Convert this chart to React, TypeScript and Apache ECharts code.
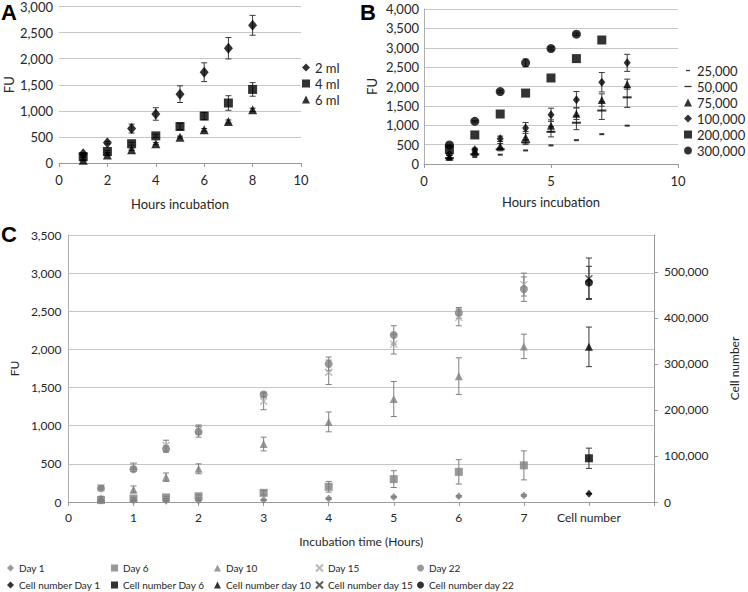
import React, { useEffect, useRef } from 'react';
import * as echarts from 'echarts';

// ---------- Panel A ----------
const aHours = [1, 2, 3, 4, 5, 6, 7, 8];
const a2ml = [175, 390, 660, 940, 1320, 1740, 2200, 2640];
const a2mlErr = [20, 25, 85, 120, 160, 180, 205, 190];
const a4ml = [120, 220, 370, 520, 700, 900, 1150, 1410];
const a4mlErr = [15, 20, 30, 30, 60, 70, 140, 130];
const a6ml = [55, 155, 255, 370, 495, 635, 795, 1020];
const a6mlErr = [10, 15, 15, 20, 20, 25, 30, 30];

// ---------- Panel B ----------
const bHours = [1, 2, 3, 4, 5, 6, 7, 8];
const b25k = [110, 180, 240, 350, 480, 615, 770, 990];
const b50k = [150, 250, 380, 560, 830, 1065, 1380, 1720];
const b50kErr = [20, 30, 40, 60, 130, 180, 230, 260];
const b75k = [190, 330, 460, 690, 990, 1300, 1650, 2060];
const b75kErr = [30, 50, 70, 150, 150, 150, 160, 130];
const b100k = [250, 370, 650, 930, 1270, 1660, 2110, 2610];
const b100kErr = [30, 40, 70, 140, 170, 210, 250, 220];
const b200kHours = [1, 2, 3, 4, 5, 6, 7];
const b200k = [370, 750, 1290, 1830, 2220, 2720, 3200];
const b300kHours = [1, 2, 3, 4, 5, 6];
const b300k = [490, 1100, 1870, 2610, 2980, 3350];
const b300kErr = [20, 20, 30, 100, 40, 30];

// ---------- Panel C ----------
const cHours = [0.5, 1, 1.5, 2, 3, 4, 5, 6, 7];
const cTickLabels = ['0', '1', '2', '3', '4', '5', '6', '7', 'Cell number', ''];
const cDay1 = [20, 20, 15, 20, 25, 45, 65, 75, 85];
const cDay1Err = [5, 5, 5, 5, 5, 10, 10, 10, 10];
const cDay6 = [25, 45, 60, 75, 120, 200, 300, 395, 480];
const cDay6Err = [10, 15, 15, 20, 30, 70, 110, 160, 190];
const cDay10 = [50, 165, 325, 435, 760, 1050, 1350, 1650, 2040];
const cDay10Err = [25, 45, 55, 65, 90, 130, 230, 240, 160];
const cDay15 = [190, 470, 740, 950, 1320, 1700, 2070, 2420, 2850];
const cDay15Err = [20, 40, 70, 60, 110, 160, 130, 110, 150];
const cDay22 = [180, 430, 695, 920, 1410, 1810, 2190, 2480, 2790];
const cDay22Err = [15, 30, 40, 70, 30, 90, 120, 70, 160];
const cCellX = 8;
const cCellNumbers = [18000, 95000, 337000, 485000, 477000];
const cCellErr = [0, 22000, 43000, 45000, 35000];
const cLegendCols = [
  ['Day 1', 'Cell number Day 1'],
  ['Day 6', 'Cell number Day 6'],
  ['Day 10', 'Cell number day 10'],
  ['Day 15', 'Cell number day 15'],
  ['Day 22', 'Cell number day 22'],
];

const FONT = 'Lato, "Open Sans", sans-serif';
const TXT = '#262626';
const GRAY = '#7f7f7f';
const LGRAY = '#a6a6a6';
const GRID = '#c6c6c6';
const XPATH = 'path://M0,0L10,10M10,0L0,10';
const DASH_S = 'path://M0,0M10,10M2.5,4.2h5v1.6h-5z';
const DASH_L = 'path://M0,0M10,10M0.5,4.2h9v1.6h-9z';

const fmt = (v: number) => v.toLocaleString('en-US');
const pts = (xs: number[], vs: number[]) => xs.map((x, i) => [x, vs[i]]);
const errs = (xs: number[], vs: number[], es: number[]) =>
  xs.map((x, i) => [x, vs[i] - es[i], vs[i] + es[i]]);

const renderErr = (cap: number) => (params: any, api: any) => {
  const x = api.value(0);
  const lo = api.value(1);
  const hi = api.value(2);
  const p1 = api.coord([x, lo]);
  const p2 = api.coord([x, hi]);
  const style = { stroke: api.visual('color'), lineWidth: 1 };
  return {
    type: 'group',
    children: [
      { type: 'line', shape: { x1: p1[0], y1: p1[1], x2: p2[0], y2: p2[1] }, style },
      { type: 'line', shape: { x1: p1[0] - cap, y1: p1[1], x2: p1[0] + cap, y2: p1[1] }, style },
      { type: 'line', shape: { x1: p2[0] - cap, y1: p2[1], x2: p2[0] + cap, y2: p2[1] }, style },
    ],
  };
};

const errSeries = (name: string, xi: number, yi: number, data: number[][], color: string) => ({
  type: 'custom',
  name,
  xAxisIndex: xi,
  yAxisIndex: yi,
  data,
  renderItem: renderErr(3),
  itemStyle: { color },
  encode: { x: 0, y: [1, 2] },
  z: 2,
  silent: true,
});

const scat = (
  name: string,
  xi: number,
  yi: number,
  data: number[][],
  symbol: string,
  size: any,
  color: string,
  stroke?: boolean
) => ({
  type: 'scatter',
  name,
  xAxisIndex: xi,
  yAxisIndex: yi,
  data,
  symbol,
  symbolSize: size,
  itemStyle: stroke
    ? { color: 'rgba(0,0,0,0)', borderColor: color, borderWidth: 1.3 }
    : { color },
  z: 3,
  silent: true,
});

const axisLabel = (size: number, margin: number, formatter?: any) => ({
  color: TXT,
  fontFamily: FONT,
  fontSize: size,
  margin,
  formatter,
});

const cLegendLeft = [7, 111, 214, 315, 417];

export default function App() {
  const ref = useRef<HTMLDivElement>(null);
  useEffect(() => {
    if (!ref.current) return;
    const chart = echarts.init(ref.current, null, { renderer: 'svg' });
    const option: any = {
      animation: false,
      backgroundColor: '#ffffff',
      textStyle: { fontFamily: FONT },
      graphic: [
        { type: 'text', left: 1, top: 1, style: { text: 'A', font: 'bold 22px "Liberation Sans", Arial, sans-serif', fill: '#000' } },
        { type: 'text', left: 360, top: 1, style: { text: 'B', font: 'bold 22px "Liberation Sans", Arial, sans-serif', fill: '#000' } },
        { type: 'text', left: 1, top: 223, style: { text: 'C', font: 'bold 22px "Liberation Sans", Arial, sans-serif', fill: '#000' } },
      ],
      grid: [
        { left: 59, top: 6, width: 242, height: 157 },
        { left: 424, top: 9, width: 254, height: 155 },
        { left: 68, top: 235, width: 600, height: 267 },
      ],
      xAxis: [
        {
          gridIndex: 0, type: 'value', min: 0, max: 10, interval: 2,
          axisLine: { show: true, lineStyle: { color: '#9a9a9a' } },
          axisTick: { show: true, length: 4, lineStyle: { color: '#9a9a9a' } },
          splitLine: { show: false },
          axisLabel: axisLabel(13, 10),
          name: 'Hours incubation', nameLocation: 'middle', nameGap: 34,
          nameTextStyle: { color: TXT, fontFamily: FONT, fontSize: 13 },
        },
        {
          gridIndex: 1, type: 'value', min: 0, max: 10, interval: 5,
          axisLine: { show: true, lineStyle: { color: '#9a9a9a' } },
          axisTick: { show: true, length: 4, lineStyle: { color: '#9a9a9a' } },
          splitLine: { show: false },
          axisLabel: axisLabel(13, 10),
          name: 'Hours incubation', nameLocation: 'middle', nameGap: 31,
          nameTextStyle: { color: TXT, fontFamily: FONT, fontSize: 13 },
        },
        {
          gridIndex: 2, type: 'value', min: 0, max: 9, interval: 1,
          axisLine: { show: true, lineStyle: { color: '#9a9a9a' } },
          axisTick: { show: true, length: 4, lineStyle: { color: '#9a9a9a' } },
          splitLine: { show: false },
          axisLabel: axisLabel(12, 9, (v: number) => cTickLabels[Math.round(v)] ?? ''),
          name: 'Incubation time (Hours)', nameLocation: 'middle', nameGap: 33,
          nameTextStyle: { color: TXT, fontFamily: FONT, fontSize: 12 },
        },
      ],
      yAxis: [
        {
          gridIndex: 0, type: 'value', min: 0, max: 3000, interval: 500,
          axisLine: { show: false }, axisTick: { show: false },
          splitLine: { show: true, lineStyle: { color: GRID } },
          axisLabel: axisLabel(13, 6, fmt),
          name: 'FU', nameLocation: 'middle', nameGap: 44, nameRotate: 90,
          nameTextStyle: { color: TXT, fontFamily: FONT, fontSize: 13 },
        },
        {
          gridIndex: 1, type: 'value', min: 0, max: 4000, interval: 500,
          axisLine: { show: true, lineStyle: { color: '#b0b0b0' } }, axisTick: { show: false },
          splitLine: { show: true, lineStyle: { color: GRID } },
          axisLabel: axisLabel(13, 5, fmt),
          name: 'FU', nameLocation: 'middle', nameGap: 46, nameRotate: 90,
          nameTextStyle: { color: TXT, fontFamily: FONT, fontSize: 13 },
        },
        {
          gridIndex: 2, type: 'value', min: 0, max: 3500, interval: 500, position: 'left',
          axisLine: { show: true, lineStyle: { color: '#b0b0b0' } }, axisTick: { show: false },
          splitLine: { show: true, lineStyle: { color: GRID } },
          axisLabel: axisLabel(12, 7, fmt),
          name: 'FU', nameLocation: 'middle', nameGap: 46, nameRotate: 90,
          nameTextStyle: { color: TXT, fontFamily: FONT, fontSize: 12 },
        },
        {
          gridIndex: 2, type: 'value', min: 0, max: 580000, interval: 100000, position: 'right',
          axisLine: { show: true, lineStyle: { color: '#9a9a9a' } },
          axisTick: { show: true, length: 4, lineStyle: { color: '#9a9a9a' } },
          splitLine: { show: false },
          axisLabel: { ...axisLabel(12, 10, fmt), showMaxLabel: false },
          name: 'Cell number', nameLocation: 'middle', nameGap: 74, nameRotate: 90,
          nameTextStyle: { color: TXT, fontFamily: FONT, fontSize: 12 },
        },
      ],
      legend: [
        {
          left: 302, top: 61, padding: 0, orient: 'vertical', itemGap: 3, itemWidth: 8, itemHeight: 8,
          textStyle: { color: TXT, fontFamily: FONT, fontSize: 13 },
          data: ['2 ml', '4 ml', '6 ml'],
          selectedMode: false,
        },
        {
          left: 684, top: 63, padding: 0, orient: 'vertical', itemGap: 1, itemWidth: 8, itemHeight: 8,
          textStyle: { color: TXT, fontFamily: FONT, fontSize: 13, lineHeight: 15 },
          data: [
            { name: '25,000', icon: DASH_S },
            { name: '50,000', icon: DASH_L },
            '75,000', '100,000', '200,000', '300,000',
          ],
          selectedMode: false,
        },
        ...cLegendCols.map((col, i) => ({
          left: cLegendLeft[i], top: 561, padding: 0, orient: 'vertical', itemGap: 3,
          itemWidth: 7, itemHeight: 7,
          textStyle: { color: TXT, fontFamily: FONT, fontSize: 10, lineHeight: 14 },
          data: col,
          selectedMode: false,
        })),
      ],
      series: [
        // A error bars
        errSeries('eA2', 0, 0, errs(aHours, a2ml, a2mlErr), '#3a3a3a'),
        errSeries('eA4', 0, 0, errs(aHours, a4ml, a4mlErr), '#3a3a3a'),
        errSeries('eA6', 0, 0, errs(aHours, a6ml, a6mlErr), '#3a3a3a'),
        scat('2 ml', 0, 0, pts(aHours, a2ml), 'diamond', [9, 11], '#000'),
        scat('4 ml', 0, 0, pts(aHours, a4ml), 'rect', 9, '#000'),
        scat('6 ml', 0, 0, pts(aHours, a6ml), 'triangle', 9, '#000'),
        // B
        errSeries('eB50', 1, 1, errs(bHours, b50k, b50kErr), '#3a3a3a'),
        errSeries('eB75', 1, 1, errs(bHours, b75k, b75kErr), '#3a3a3a'),
        errSeries('eB100', 1, 1, errs(bHours, b100k, b100kErr), '#3a3a3a'),
        errSeries('eB300', 1, 1, errs(b300kHours, b300k, b300kErr), '#3a3a3a'),
        scat('25,000', 1, 1, pts(bHours, b25k), 'rect', [5, 2], '#000'),
        scat('50,000', 1, 1, pts(bHours, b50k), 'rect', [9, 2], '#000'),
        scat('75,000', 1, 1, pts(bHours, b75k), 'triangle', 8, '#000'),
        scat('100,000', 1, 1, pts(bHours, b100k), 'diamond', [7, 9], '#000'),
        scat('200,000', 1, 1, pts(b200kHours, b200k), 'rect', 9, '#000'),
        scat('300,000', 1, 1, pts(b300kHours, b300k), 'circle', 9, '#000'),
        // C
        errSeries('eC1', 2, 2, errs(cHours, cDay1, cDay1Err), GRAY),
        errSeries('eC6', 2, 2, errs(cHours, cDay6, cDay6Err), GRAY),
        errSeries('eC10', 2, 2, errs(cHours, cDay10, cDay10Err), GRAY),
        errSeries('eC15', 2, 2, errs(cHours, cDay15, cDay15Err), GRAY),
        errSeries('eC22', 2, 2, errs(cHours, cDay22, cDay22Err), GRAY),
        errSeries('eCcell', 2, 3, errs([cCellX, cCellX, cCellX, cCellX, cCellX], cCellNumbers, cCellErr), '#3a3a3a'),
        scat('Day 1', 2, 2, pts(cHours, cDay1), 'diamond', [7, 8], GRAY),
        scat('Day 6', 2, 2, pts(cHours, cDay6), 'rect', 8, GRAY),
        scat('Day 10', 2, 2, pts(cHours, cDay10), 'triangle', 8, GRAY),
        scat('Day 15', 2, 2, pts(cHours, cDay15), XPATH, 7, LGRAY, true),
        scat('Day 22', 2, 2, pts(cHours, cDay22), 'circle', 8, GRAY),
        scat('Cell number Day 1', 2, 3, [[cCellX, cCellNumbers[0]]], 'diamond', [7, 8], '#000'),
        scat('Cell number Day 6', 2, 3, [[cCellX, cCellNumbers[1]]], 'rect', 8, '#000'),
        scat('Cell number day 10', 2, 3, [[cCellX, cCellNumbers[2]]], 'triangle', 8, '#000'),
        scat('Cell number day 15', 2, 3, [[cCellX, cCellNumbers[3]]], XPATH, 7, '#333', true),
        scat('Cell number day 22', 2, 3, [[cCellX, cCellNumbers[4]]], 'circle', 8, '#000'),
      ],
    };
    chart.setOption(option);
    return () => chart.dispose();
  }, []);
  return (
    <div
      ref={ref}
      style={{ position: 'absolute', left: 0, top: 0, width: 748, height: 592, background: '#fff' }}
    />
  );
}
